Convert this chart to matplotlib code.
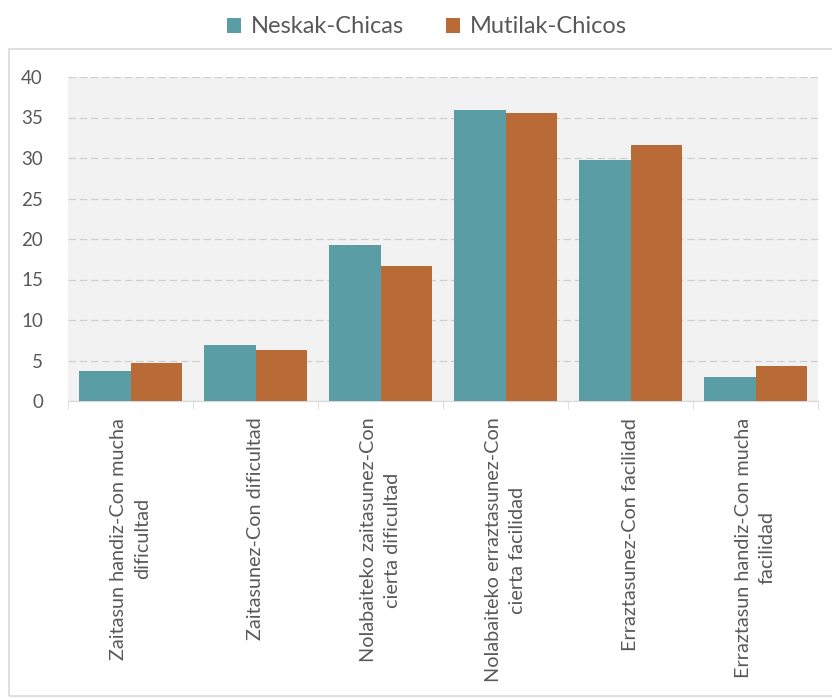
import matplotlib.pyplot as plt
import numpy as np
from matplotlib.patches import Rectangle

categories = [
    'Zaitasun handiz-Con mucha\ndificultad',
    'Zaitasunez-Con dificultad',
    'Nolabaiteko zaitasunez-Con\ncierta dificultad',
    'Nolabaiteko erraztasunez-Con\ncierta facilidad',
    'Erraztasunez-Con facilidad',
    'Erraztasun handiz-Con mucha\nfacilidad',
]
neskak = [3.7, 6.9, 19.3, 35.9, 29.7, 3.0]
mutilak = [4.7, 6.3, 16.7, 35.6, 31.6, 4.3]

plt.rcParams['font.family'] = ['Lato', 'DejaVu Sans']

fig = plt.figure(figsize=(8.32, 6.99), dpi=100)
ax = fig.add_axes([68 / 832, 1 - 401 / 699, 750 / 832, (401 - 77) / 699])

teal = '#5B9DA5'
orange = '#B86B37'
x = np.arange(len(categories))
w = 0.415
ax.bar(x - w / 2, neskak, w, color=teal, label='Neskak-Chicas', zorder=3)
ax.bar(x + w / 2, mutilak, w, color=orange, label='Mutilak-Chicos', zorder=3)

ax.set_facecolor('#F2F2F2')
ax.set_xlim(-0.5, len(categories) - 0.5)
ax.set_ylim(0, 40)
ax.set_yticks(range(0, 45, 5))
ax.yaxis.grid(True, linestyle=(0, (6, 3)), color='#CFCFCF', linewidth=0.9, zorder=0)
ax.set_axisbelow(True)
for s in ['top', 'right', 'left']:
    ax.spines[s].set_visible(False)
ax.spines['bottom'].set_color('#D9D9D9')

ax.set_xticks(x)
ax.set_xticklabels(categories, rotation=90, ha='center', va='top',
                   multialignment='center', fontsize=14.3, color='#595959',
                   linespacing=1.45)
ax.tick_params(axis='x', length=0, pad=12)
ax.set_xticks(np.arange(-0.5, len(categories)), minor=True)
ax.tick_params(axis='x', which='minor', length=6, color='#D9D9D9', direction='out')
ax.tick_params(axis='y', length=0, labelsize=13.5, labelcolor='#595959', pad=18)

fig.patches.append(Rectangle((9 / 832, 3 / 699), 840 / 832, (699 - 49 - 3) / 699,
                             transform=fig.transFigure, fill=False,
                             edgecolor='#D9D9D9', linewidth=1.2))

fig.legend(loc='upper center', bbox_to_anchor=(427 / 832, 1.007), ncol=2, frameon=False,
           fontsize=17, handlelength=0.6, handleheight=0.6, columnspacing=1.75,
           handletextpad=0.42, labelcolor='#595959')

plt.savefig('out.png', dpi=100)
